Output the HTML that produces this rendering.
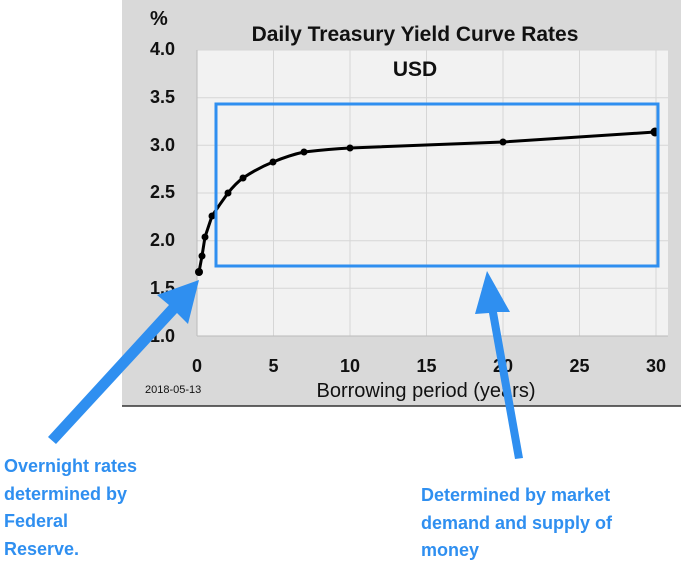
<!DOCTYPE html>
<html><head><style>
body{margin:0;background:#fff;width:681px;height:572px;overflow:hidden;font-family:"Liberation Sans",sans-serif}
</style></head><body>
<svg width="681" height="572" xmlns="http://www.w3.org/2000/svg" style="position:absolute;left:0;top:0">
<rect x="122" y="0" width="559" height="406" fill="#d9d9d9"/>
<line x1="122" y1="406" x2="681" y2="406" stroke="#333" stroke-width="1.5"/>
<rect x="197" y="50" width="471" height="286" fill="#f2f2f2"/>
<g stroke="#d6d6d6" stroke-width="1">
<line x1="197" y1="50" x2="668" y2="50"/><line x1="197" y1="97.7" x2="668" y2="97.7"/>
<line x1="197" y1="145.3" x2="668" y2="145.3"/><line x1="197" y1="193" x2="668" y2="193"/>
<line x1="197" y1="240.7" x2="668" y2="240.7"/><line x1="197" y1="288.3" x2="668" y2="288.3"/>
<line x1="273.5" y1="50" x2="273.5" y2="336"/><line x1="350" y1="50" x2="350" y2="336"/>
<line x1="426.5" y1="50" x2="426.5" y2="336"/><line x1="503" y1="50" x2="503" y2="336"/>
<line x1="579.5" y1="50" x2="579.5" y2="336"/><line x1="656" y1="50" x2="656" y2="336"/>
</g>
<line x1="197" y1="50" x2="197" y2="336" stroke="#bbb"/>
<line x1="197" y1="336" x2="668" y2="336" stroke="#bbb"/>
<g font-weight="bold" font-size="18" fill="#111" text-anchor="end">
<text x="175" y="55">4.0</text><text x="175" y="103">3.5</text><text x="175" y="151">3.0</text>
<text x="175" y="198">2.5</text><text x="175" y="246">2.0</text><text x="175" y="294">1.5</text><text x="175" y="342">1.0</text>
</g>
<text x="150" y="25" font-weight="bold" font-size="20" fill="#111">%</text>
<g font-weight="bold" font-size="18" fill="#111" text-anchor="middle">
<text x="197" y="372">0</text><text x="273.5" y="372">5</text><text x="350" y="372">10</text>
<text x="426.5" y="372">15</text><text x="503" y="372">20</text><text x="579.5" y="372">25</text><text x="656" y="372">30</text>
</g>
<text x="415" y="41" font-weight="bold" font-size="21" fill="#111" text-anchor="middle">Daily Treasury Yield Curve Rates</text>
<text x="415" y="76" font-weight="bold" font-size="21" fill="#111" text-anchor="middle">USD</text>
<text x="145" y="393" font-size="11" fill="#111">2018-05-13</text>
<text x="426" y="397" font-size="20" fill="#111" text-anchor="middle">Borrowing period (years)</text>
<path d="M199,272 L202,256 L205,237 L212,216 Q220,204 228,193 Q236,183 243,178 Q258,168 273,162 Q290,155 304,152 Q330,149 350,148 L503,142 L655,132" fill="none" stroke="#000" stroke-width="3" stroke-linejoin="round"/>
<g fill="#000">
<circle cx="199" cy="272" r="4"/><circle cx="202" cy="256" r="3.5"/><circle cx="205" cy="237" r="3.5"/>
<circle cx="212" cy="216" r="3.5"/><circle cx="228" cy="193" r="3.5"/><circle cx="243" cy="178" r="3.5"/>
<circle cx="273" cy="162" r="3.5"/><circle cx="304" cy="152" r="3.5"/><circle cx="350" cy="148" r="3.5"/>
<circle cx="503" cy="142" r="3.5"/><circle cx="655" cy="132" r="4.5"/>
</g>
<rect x="216" y="104" width="442" height="162" fill="none" stroke="#2f8ff0" stroke-width="3"/>
<g fill="#2f8ff0">
<polygon points="199,280 188,324 177,313 56,444 48,437 169,305 157,295"/>
<polygon points="487,271 510,312 497,312 523,458 515,459 489,313 475,314"/>
</g>
<g font-weight="bold" font-size="18" fill="#2f8ff0">
<text x="4" y="472">Overnight rates</text><text x="4" y="500">determined by</text>
<text x="4" y="527">Federal</text><text x="4" y="555">Reserve.</text>
<text x="421" y="501">Determined by market</text><text x="421" y="529">demand and supply of</text>
<text x="421" y="556">money</text>
</g>
</svg>
</body></html>
